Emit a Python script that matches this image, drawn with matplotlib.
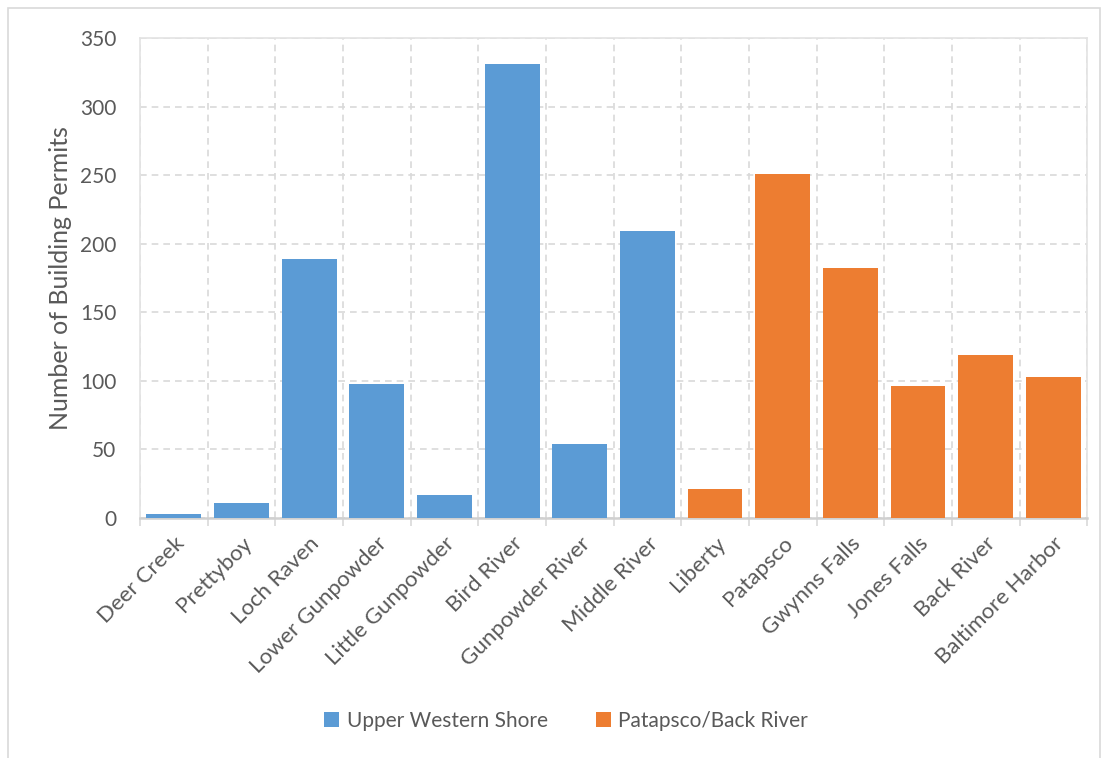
import matplotlib
matplotlib.use("Agg")
import matplotlib.pyplot as plt
from matplotlib.patches import Patch, Rectangle

categories = ["Deer Creek", "Prettyboy", "Loch Raven", "Lower Gunpowder",
              "Little Gunpowder", "Bird River", "Gunpowder River", "Middle River",
              "Liberty", "Patapsco", "Gwynns Falls", "Jones Falls", "Back River",
              "Baltimore Harbor"]
values = [3, 11, 189, 98, 17, 331, 54, 209, 21, 251, 182, 96, 119, 103]
groups = ["Upper Western Shore"] * 8 + ["Patapsco/Back River"] * 6
group_names = ["Upper Western Shore", "Patapsco/Back River"]
group_colors = {"Upper Western Shore": "#5B9BD5", "Patapsco/Back River": "#ED7D31"}
yticks = [0, 50, 100, 150, 200, 250, 300, 350]

plt.rcParams['font.family'] = ['Lato', 'DejaVu Sans']
text_color = "#595959"

fig = plt.figure(figsize=(11.06, 7.58), dpi=100)
ax = fig.add_axes([0.1266, 0.3166, 0.983 - 0.1266, 0.9499 - 0.3166])

x = list(range(len(categories)))
colors = [group_colors[g] for g in groups]
ax.bar(x, values, width=0.81, color=colors, edgecolor="none", zorder=3)

ax.set_xlim(-0.5, len(categories) - 0.5)
ax.set_ylim(0, 350)
ax.set_yticks(yticks)
ax.set_yticklabels([str(v) for v in yticks], fontsize=15, color=text_color)
ax.tick_params(axis="y", length=0, pad=17)

ax.set_xticks(x)
ax.set_xticklabels(categories, rotation=45, ha="right", rotation_mode="anchor",
                   fontsize=16, color=text_color)
ax.tick_params(axis="x", which="major", length=0, pad=11)
ax.set_xticks([i - 0.5 for i in range(len(categories) + 1)], minor=True)
ax.tick_params(axis="x", which="minor", length=6, width=1.2, color="#d9d9d9", direction="out")

ax.grid(True, axis="y", which="major", linestyle=(0, (4, 3)), color="#d9d9d9", linewidth=1.2, zorder=0)
ax.grid(True, axis="x", which="minor", linestyle=(0, (4, 3)), color="#d9d9d9", linewidth=1.2, zorder=0)
ax.grid(False, axis="x", which="major")

for side in ["top", "right", "left"]:
    ax.spines[side].set_color("#e3e3e3")
    ax.spines[side].set_linewidth(1.2)
ax.spines["bottom"].set_color("#d0d0d0")
ax.spines["bottom"].set_linewidth(1.8)

ax.set_ylabel("Number of Building Permits", fontsize=18, color=text_color)
ax.yaxis.label.set_va("center")
ax.yaxis.set_label_coords((60 - 140) / 947, 0.5)

handles = [Patch(facecolor=group_colors[g], edgecolor="none") for g in group_names]
fig.legend(handles, group_names, loc="center", bbox_to_anchor=(566 / 1106, 1 - 721 / 758),
           ncol=2, frameon=False, fontsize=15, handlelength=0.75, handleheight=0.75,
           handletextpad=0.35, columnspacing=2.3, labelcolor=text_color)

fig.patches.append(Rectangle((8 / 1106, -0.01), (1100 - 8) / 1106, 1 - 8 / 758 + 0.01,
                             transform=fig.transFigure, fill=False,
                             edgecolor="#d9d9d9", linewidth=1.2))

fig.savefig("out.png", dpi=100, facecolor="white")
